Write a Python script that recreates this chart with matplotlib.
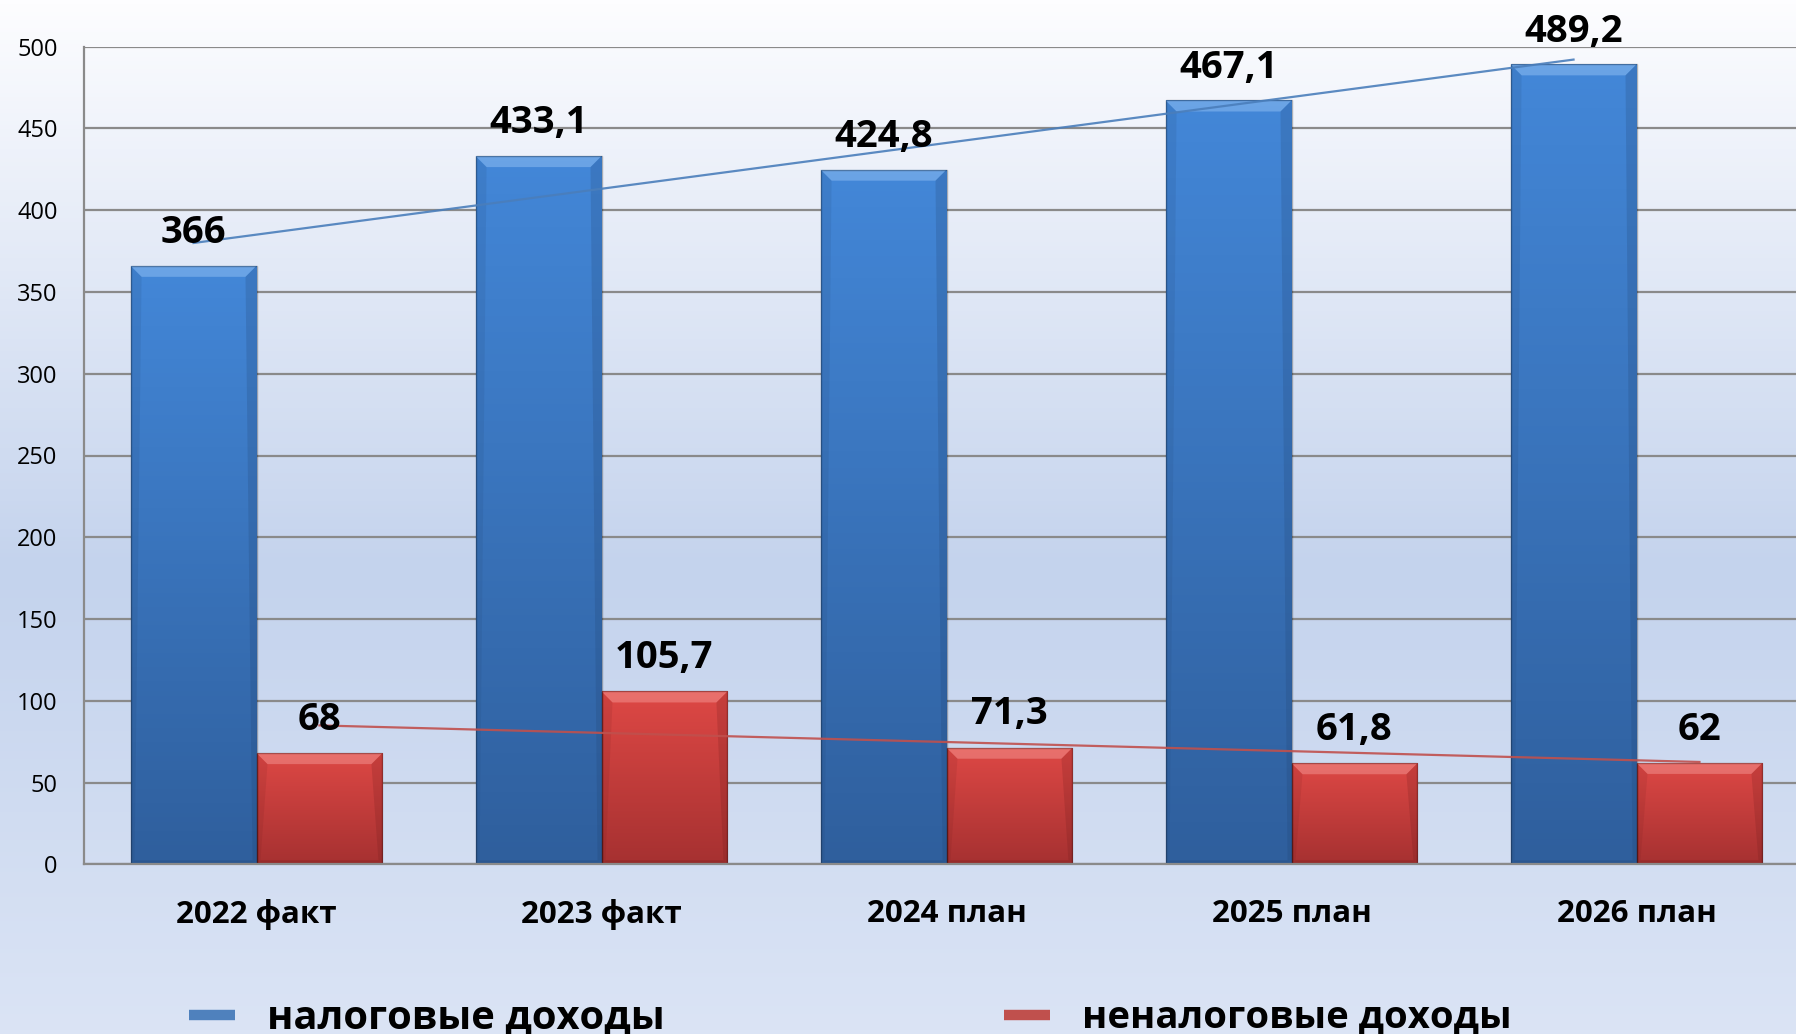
import numpy as np
import matplotlib
matplotlib.use('Agg')
import matplotlib.pyplot as plt
from matplotlib.colors import LinearSegmentedColormap
from matplotlib.patches import Polygon
from matplotlib.lines import Line2D

plt.rcParams['font.family'] = ['Open Sans', 'DejaVu Sans']

# ---------------- data ----------------
categories = ['2022 факт', '2023 факт', '2024 план', '2025 план', '2026 план']
tax_income = [366, 433.1, 424.8, 467.1, 489.2]
nontax_income = [68, 105.7, 71.3, 61.8, 62]
tax_labels = ['366', '433,1', '424,8', '467,1', '489,2']
nontax_labels = ['68', '105,7', '71,3', '61,8', '62']
series_names = ['налоговые доходы', 'неналоговые доходы']
yticks = [0, 50, 100, 150, 200, 250, 300, 350, 400, 450, 500]

# ---------------- figure ----------------
W, H = 1796, 1034
fig = plt.figure(figsize=(W / 100, H / 100), dpi=100)

# background gradient
bg = fig.add_axes([0, 0, 1, 1], zorder=-10)
bg.axis('off')
bg_cmap = LinearSegmentedColormap.from_list(
    'bg', [(0.0, '#fdfdff'), (0.55, '#c4d3ed'), (1.0, '#dbe4f5')])
bg.imshow(np.linspace(0, 1, 256).reshape(-1, 1), cmap=bg_cmap, aspect='auto',
          extent=[0, 1, 0, 1], origin='upper')
bg.set_xlim(0, 1)
bg.set_ylim(0, 1)

ax_left, ax_bottom = 84 / W, 1 - 864.3 / H
ax_w, ax_h = 1725 / W, (864.3 - 46.7) / H
ax = fig.add_axes([ax_left, ax_bottom, ax_w, ax_h], zorder=1)
ax.patch.set_alpha(0)

x = np.arange(len(categories))
w = 0.365
ax.set_xlim(-0.5, len(categories) - 0.5)
ax.set_ylim(0, 500)

grid_col = '#8a8a8a'
ax.set_yticks(yticks)
ax.yaxis.grid(True, color=grid_col, lw=1.6, zorder=0)
ax.set_axisbelow(True)
for s in ['top', 'right']:
    ax.spines[s].set_visible(False)
for s in ['left', 'bottom']:
    ax.spines[s].set_color(grid_col)
    ax.spines[s].set_linewidth(1.6)
ax.tick_params(axis='y', length=0, labelsize=17, pad=19)
ax.set_xticks(x)
ax.set_xticklabels(categories, fontsize=22.5, fontweight='bold')
ax.tick_params(axis='x', length=0, pad=25)

# pixel -> data conversions for bevel decoration
px_x = (len(categories)) / (ax_w * W)
px_y = 500 / (ax_h * H)


def fancy_bars(xpos, vals, top_col, bot_col, light_col, dark_col):
    bars = ax.bar(xpos, vals, width=w, color=bot_col, edgecolor=(0, 0, 0, 0.28),
                  linewidth=1.0, zorder=2)
    cmap = LinearSegmentedColormap.from_list('g', [top_col, bot_col])
    for r in bars:
        x0, y0 = r.get_x(), r.get_y()
        x1, y1 = x0 + r.get_width(), y0 + r.get_height()
        im = ax.imshow(np.linspace(0, 1, 128).reshape(-1, 1), cmap=cmap,
                       aspect='auto', extent=[x0, x1, y0, y1], origin='upper',
                       zorder=2.1)
        im.set_clip_path(r)
        dx, dy = 11 * px_x, 11 * px_y
        # top bevel (light)
        ax.add_patch(Polygon([(x0, y1), (x1, y1), (x1 - dx, y1 - dy), (x0 + dx, y1 - dy)],
                             closed=True, facecolor=light_col, alpha=0.45, lw=0, zorder=2.2))
        # side bevels (dark, subtle)
        sx, sy = 4 * px_x, 4 * px_y
        ax.add_patch(Polygon([(x0, y0), (x0, y1), (x0 + dx, y1 - dy), (x0 + sx, y0 + sy)],
                             closed=True, facecolor=dark_col, alpha=0.12, lw=0, zorder=2.2))
        ax.add_patch(Polygon([(x1, y0), (x1, y1), (x1 - dx, y1 - dy), (x1 - sx, y0 + sy)],
                             closed=True, facecolor=dark_col, alpha=0.2, lw=0, zorder=2.2))
        ax.add_patch(Polygon([(x0, y0), (x1, y0), (x1 - sx, y0 + sy), (x0 + sx, y0 + sy)],
                             closed=True, facecolor=dark_col, alpha=0.25, lw=0, zorder=2.2))
        r.set_facecolor('none')
        r.set_zorder(2.3)
    return bars


fancy_bars(x - w / 2, tax_income, '#4387d8', '#2f5f9d', '#9cc8f7', '#1f3f6a')
fancy_bars(x + w / 2, nontax_income, '#de4845', '#a63131', '#f7a09c', '#6a1a1a')

ax.set_xlim(-0.5, len(categories) - 0.5)
ax.set_ylim(0, 500)

# value labels
for xi, v, lab in zip(x - w / 2, tax_income, tax_labels):
    ax.annotate(lab, (xi, v), xytext=(0, 23.5), textcoords='offset points',
                ha='center', va='center', fontsize=27.5, fontweight='bold', zorder=6)
for xi, v, lab in zip(x + w / 2, nontax_income, nontax_labels):
    ax.annotate(lab, (xi, v), xytext=(0, 24), textcoords='offset points',
                ha='center', va='center', fontsize=27.5, fontweight='bold', zorder=6)

# linear trend lines
blue_line, red_line = '#4a7ebb', '#c0504d'
for xs, vals, col in [(x - w / 2, tax_income, blue_line), (x + w / 2, nontax_income, red_line)]:
    k, b = np.polyfit(x, vals, 1)
    ax.plot([xs[0], xs[-1]], [k * x[0] + b, k * x[-1] + b], color=col, lw=1.6,
            alpha=0.9, zorder=5)

# legend
h1 = Line2D([], [], color='#4f81bd', lw=7.5, solid_capstyle='butt')
h2 = Line2D([], [], color='#c0504d', lw=7.5, solid_capstyle='butt')
fig.legend([h1], [series_names[0]], loc='center left', bbox_to_anchor=(189 / W, 1 - 1018 / H),
           frameon=False, prop={'weight': 'bold', 'size': 28.75}, handlelength=1.15,
           handletextpad=0.8, borderpad=0, borderaxespad=0)
fig.legend([h2], [series_names[1]], loc='center left', bbox_to_anchor=(1004 / W, 1 - 1018 / H),
           frameon=False, prop={'weight': 'bold', 'size': 27.5}, handlelength=1.2,
           handletextpad=0.85, borderpad=0, borderaxespad=0)

fig.savefig('out.png', dpi=100)
